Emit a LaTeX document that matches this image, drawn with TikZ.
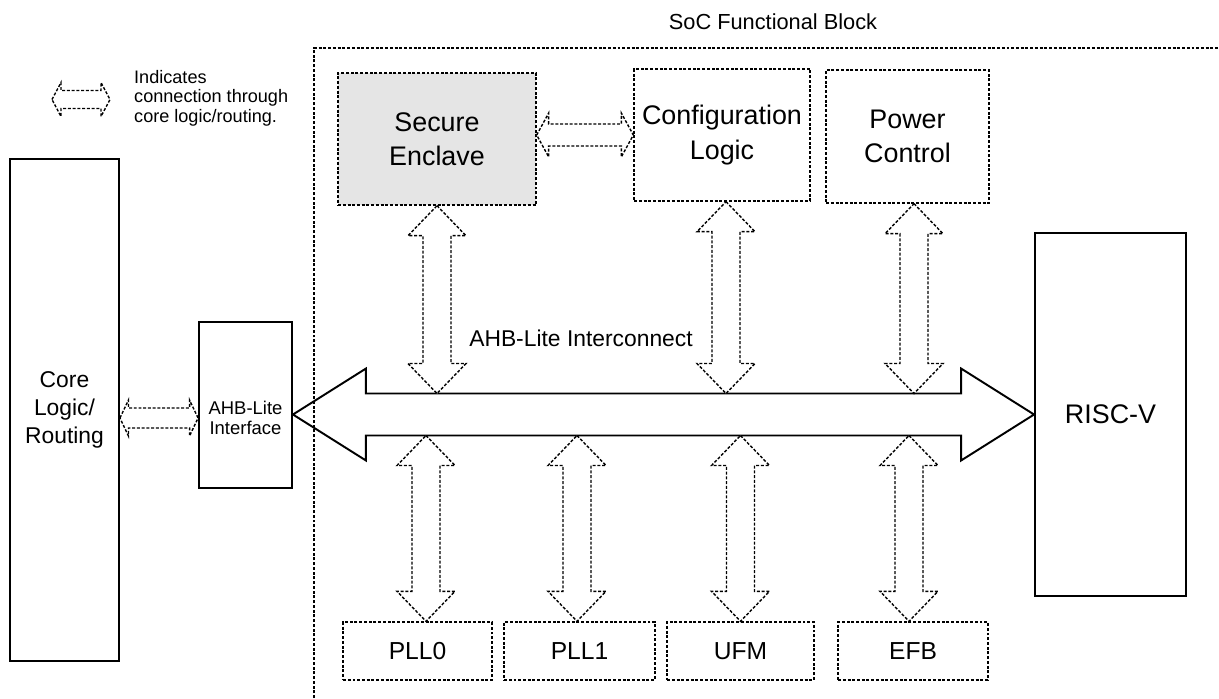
\documentclass[tikz,border=0pt]{standalone}
\usepackage{fontspec}
\setmainfont{Liberation Sans}
\usetikzlibrary{calc}

\tikzset{
  solidbox/.style={draw, line width=1.1pt, align=center},
  dotline/.style={line width=0.8pt, dash pattern=on 1.7pt off 1pt},
  dotbox/.style={draw, dotline, align=center},
  fatdot/.style={dotline, fill=white},
  fatsolid/.style={line width=1.1pt, fill=white},
  bigfont/.style={font=\fontsize{15.3}{19.4}\selectfont},
  midfont/.style={font=\fontsize{13}{16}\selectfont},
  smallfont/.style={font=\fontsize{10.3}{11}\selectfont},
}

% fat double arrow, left tip to right tip (y taken from the left tip)
% #4 head half-width, #5 shaft half-width, #6 head length
\newcommand{\hfat}[6]{%
  \draw[#1] let \p1=#2, \p2=#3 in
    (\x1,\y1) -- (\x1+#6,\y1+#4) -- (\x1+#6,\y1+#5) -- (\x2-#6,\y1+#5)
    -- (\x2-#6,\y1+#4) -- (\x2,\y1) -- (\x2-#6,\y1-#4) -- (\x2-#6,\y1-#5)
    -- (\x1+#6,\y1-#5) -- (\x1+#6,\y1-#4) -- cycle;}

% fat double arrow, vertical: x taken from #2, tips at #3 (top) and #4 (bottom)
\newcommand{\vfat}[4]{%
  \draw[#1] let \p3=#2, \p1=#3, \p2=#4 in
    (\x3,\y1) -- (\x3+0.58cm,\y1-0.6cm) -- (\x3+0.28cm,\y1-0.6cm) -- (\x3+0.28cm,\y2+0.6cm)
    -- (\x3+0.58cm,\y2+0.6cm) -- (\x3,\y2) -- (\x3-0.58cm,\y2+0.6cm) -- (\x3-0.28cm,\y2+0.6cm)
    -- (\x3-0.28cm,\y1-0.6cm) -- (\x3-0.58cm,\y1-0.6cm) -- cycle;}

\begin{document}
\begin{tikzpicture}[x=0.02cm, y=-0.02cm]
\useasboundingbox (0,0) rectangle (1219,698);

% legend
\coordinate (legL) at (52,99.5);
\coordinate (legR) at (110,99.5);
\hfat{fatdot}{(legL)}{(legR)}{0.34cm}{0.18cm}{0.18cm}
\node[smallfont, align=left, anchor=west] (legend) at (128,98) {Indicates\\connection through\\core logic/routing.};

% blocks outside the SoC
\node[solidbox, midfont, minimum width=2.18cm, minimum height=10.04cm] (core) at (64.5,410) {Core\\Logic/\\Routing};
\node[solidbox, minimum width=1.86cm, minimum height=3.32cm] (iface) at (245.5,405) {};
\node[font=\fontsize{10.5}{11.4}\selectfont, align=center] (ifacetxt) at (245.5,418) {AHB-Lite\\Interface};

% blocks inside the SoC
\node[dotbox, bigfont, fill=gray!20, minimum width=3.96cm, minimum height=2.64cm] (se) at (437,139) {Secure\\Enclave};
\node[dotbox, bigfont, minimum width=3.52cm, minimum height=2.64cm] (cfg) at (722,135) {Configuration\\Logic};
\node[dotbox, bigfont, minimum width=3.26cm, minimum height=2.66cm] (pwr) at (907.5,136.5) {Power\\Control};
\node[solidbox, bigfont, minimum width=3.02cm, minimum height=7.26cm] (risc) at (1110.5,414.5) {RISC-V};

\foreach \b/\t/\cx/\w in {pll0/PLL0/417.5/2.98, pll1/PLL1/579.5/3.02, ufm/UFM/740.5/2.94, efb/EFB/913/3.0}
  \node[dotbox, font=\fontsize{14}{16}\selectfont, minimum width=\w cm, minimum height=1.16cm] (\b) at (\cx,651) {\t};

% interconnect
\coordinate (busL) at (iface.east |- risc.west);
\coordinate (bN) at ($(risc.west)+(0,-21)$);
\coordinate (bS) at ($(risc.west)+(0,21)$);
\hfat{fatsolid}{(busL)}{(risc.west)}{0.92cm}{0.42cm}{1.46cm}
\node[font=\fontsize{13}{15}\selectfont] (buslbl) at (581,338) {AHB-Lite Interconnect};

% connections through core logic
\hfat{fatdot}{(core.east |- ifacetxt)}{(iface.west |- ifacetxt)}{0.36cm}{0.2cm}{0.17cm}
\hfat{fatdot}{(se.east |- cfg.west)}{(cfg.west)}{0.44cm}{0.22cm}{0.24cm}

% links to the bus
\vfat{fatdot}{(se.south)}{(se.south)}{(bN)}
\vfat{fatdot}{([xshift=0.08cm]cfg.south)}{(cfg.south)}{(bN)}
\vfat{fatdot}{([xshift=0.13cm]pwr.south)}{(pwr.south)}{(bN)}
\foreach \b/\s in {pll0/0.17, pll1/-0.05, ufm/0, efb/-0.08}
  {\vfat{fatdot}{([xshift=\s cm]\b.north)}{(bS)}{(\b.north)}}

% SoC outline
\draw[dotline] (314,698) -- (314,48) -- (1219,48);
\node[font=\fontsize{12.4}{14}\selectfont] (soc) at (773,22) {SoC Functional Block};
\end{tikzpicture}
\end{document}
